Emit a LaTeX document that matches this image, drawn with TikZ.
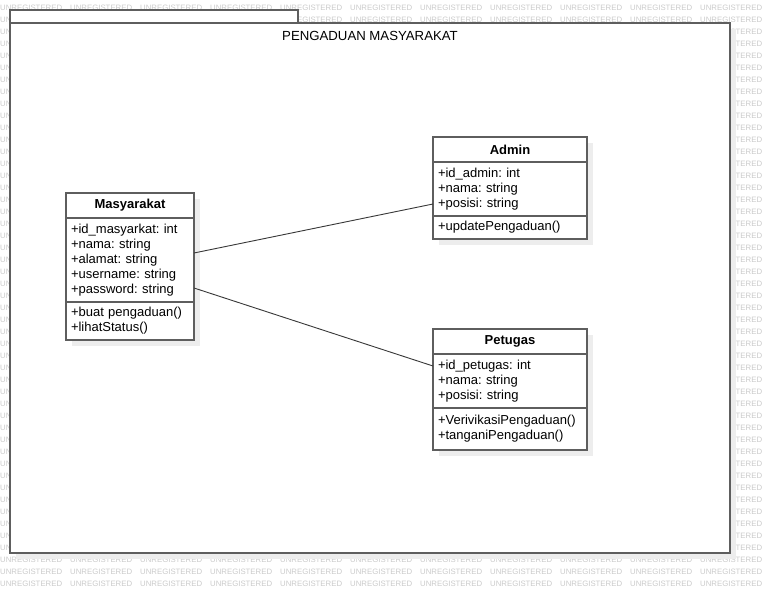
\documentclass[tikz,border=0pt]{standalone}
\usepackage{fontspec}
\setmainfont{Liberation Sans}
\usepackage{tikz}
\usetikzlibrary{shapes}
\usetikzlibrary{positioning}
\usetikzlibrary{shadows}
\definecolor{boxline}{HTML}{5E5E5E}
\definecolor{wmgray}{HTML}{CACACA}
\newcommand\wmword{\makebox[70pt][l]{UNREGISTERED}}
\newcommand\wmline{\wmword\wmword\wmword\wmword\wmword\wmword\wmword\wmword\wmword\wmword\makebox[62pt][l]{UNREGISTERED}}
\frenchspacing

\begin{document}
\begin{tikzpicture}[x=1pt,y=-1pt]
\tikzstyle{wmrow}=[anchor=west,inner sep=0pt,text=wmgray,font=\fontsize{7.8}{8}\selectfont]
\tikzstyle{frame}=[rectangle,draw=boxline,line width=1.4pt,fill=white,inner sep=0pt,outer sep=0pt]
\tikzstyle{classpart}=[rectangle,draw=boxline,line width=1.3pt,fill=white,inner xsep=5pt,inner ysep=0pt,outer sep=0pt,
align=left,font=\fontsize{13}{15}\selectfont,
drop shadow={shadow xshift=6pt,shadow yshift=-6pt,fill=black!7,opacity=1}]
\tikzstyle{classhead}=[classpart,align=center,font=\fontsize{13}{15}\selectfont\bfseries,minimum height=25pt]
\tikzstyle{link}=[draw=black!78,line width=0.9pt]
\useasboundingbox (0,0) rectangle (771,594);
\foreach \r in {0,...,48}
  \node[wmrow] (wm\r) at (0,8+12*\r) {\wmline};
\node[frame,minimum width=288pt,minimum height=13pt] (tab) at (154,16.5) {};
\node[frame,minimum width=720pt,minimum height=530pt,
drop shadow={shadow xshift=6pt,shadow yshift=-6pt,fill=black!7,opacity=1}] (pkg) at (370,288) {};
\node[font=\fontsize{13.2}{15}\selectfont] (pkgtitle) [below=5pt of pkg.north] {PENGADUAN MASYARAKAT};
\node[classhead,minimum width=128pt] (masyHead) at (130,205.5) {Masyarakat};
\node[classpart,text width=118pt,minimum height=84pt] (masyAttr) [below=0pt of masyHead]
{+id\_masyarkat: int\\+nama: string\\+alamat: string\\+username: string\\+password: string};
\node[classpart,text width=118pt,minimum height=38pt] (masyMeth) [below=0pt of masyAttr]
{+buat pengaduan()\\+lihatStatus()};
\node[classhead,minimum width=154pt] (adminHead) at (510,149.5) {Admin};
\node[classpart,text width=144pt,minimum height=54pt] (adminAttr) [below=0pt of adminHead]
{+id\_admin: int\\+nama: string\\+posisi: string};
\node[classpart,text width=144pt,minimum height=23pt] (adminMeth) [below=0pt of adminAttr]
{+updatePengaduan()};
\node[classhead,minimum width=154pt] (petugasHead) at (510,341.5) {Petugas};
\node[classpart,text width=144pt,minimum height=54pt] (petugasAttr) [below=0pt of petugasHead]
{+id\_petugas: int\\+nama: string\\+posisi: string};
\node[classpart,text width=144pt,minimum height=42pt] (petugasMeth) [below=0pt of petugasAttr]
{+VerivikasiPengaduan()\\+tanganiPengaduan()};
\draw [link] ([yshift=7pt]masyAttr.east) to ([yshift=-15pt]adminAttr.west);
\draw [link] ([yshift=-28pt]masyAttr.east) to ([yshift=15pt]petugasAttr.west);
\end{tikzpicture}
\end{document}
